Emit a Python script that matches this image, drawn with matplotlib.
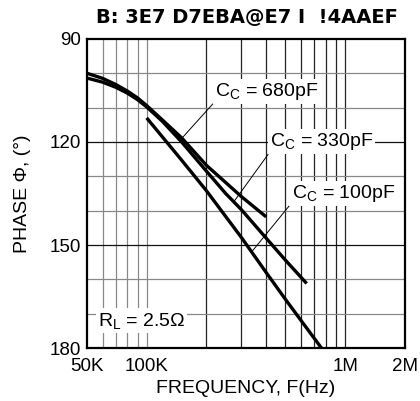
import numpy as np
import matplotlib
matplotlib.use("Agg")
import matplotlib.pyplot as plt

plt.rcParams['font.family'] = ['Liberation Sans', 'DejaVu Sans']
plt.rcParams['mathtext.fontset'] = 'custom'
plt.rcParams['mathtext.rm'] = 'Liberation Sans'
plt.rcParams['mathtext.it'] = 'Liberation Sans'

# phase vs frequency for each compensation cap
f_680 = [50e3, 60e3, 70e3, 80e3, 90e3, 100e3, 120e3, 150e3, 200e3, 250e3, 300e3, 400e3]
ph_680 = [100.0, 101.5, 103.3, 105.2, 107.2, 109.4, 113.6, 118.8, 126.8, 131.8, 135.9, 141.8]

f_330 = [50e3, 60e3, 70e3, 80e3, 90e3, 100e3, 120e3, 150e3, 200e3, 250e3, 300e3, 400e3, 500e3, 640e3]
ph_330 = [101.4, 102.6, 104.1, 105.8, 107.7, 109.8, 114.0, 120.0, 128.5, 135.0, 139.7, 148.0, 154.4, 161.2]

f_100 = [100e3, 150e3, 200e3, 300e3, 400e3, 500e3, 600e3, 760e3]
ph_100 = [113.0, 125.3, 134.2, 147.8, 158.0, 165.8, 172.0, 180.0]

xticks = [50e3, 100e3, 1e6, 2e6]
xlabels = ['50K', '100K', '1M', '2M']
yticks = [90, 120, 150, 180]

fig = plt.figure(figsize=(4.2, 4.01), dpi=100)
ax = fig.add_axes([0.207, 0.132, 0.757, 0.771])
ax.set_xscale('log')
ax.set_xlim(50e3, 2e6)
ax.set_ylim(180, 90)

# grid
for f in np.arange(60e3, 100e3 + 1, 10e3):
    ax.axvline(f, color='#888888', lw=0.9, zorder=1)
for f in np.arange(200e3, 1e6 + 1, 100e3):
    ax.axvline(f, color='#222222', lw=0.9, zorder=1)
for p in range(100, 180, 10):
    c = '#111111' if p % 30 == 0 else '#888888'
    ax.axhline(p, color=c, lw=0.9, zorder=1)

for f, ph in [(f_680, ph_680), (f_330, ph_330), (f_100, ph_100)]:
    ax.plot(f, ph, color='black', lw=2.4, solid_capstyle='butt', zorder=4)

box = dict(facecolor='white', edgecolor='none', pad=1.5)
lead = dict(arrowstyle='-', lw=0.7, color='black', shrinkA=0, shrinkB=0)
ax.annotate(r'$\mathregular{C_C}$ = 680pF', xy=(150e3, 119.0), xytext=(221e3, 105.4),
            fontsize=14, va='center', ha='left', bbox=box, zorder=3,
            arrowprops=dict(lead, relpos=(0.02, 0.15)))
ax.annotate(r'$\mathregular{C_C}$ = 330pF', xy=(275e3, 137.4), xytext=(418e3, 119.9),
            fontsize=14, va='center', ha='left', bbox=box, zorder=3,
            arrowprops=dict(lead, relpos=(0.02, 0.15)))
ax.annotate(r'$\mathregular{C_C}$ = 100pF', xy=(338e3, 152.0), xytext=(537e3, 134.9),
            fontsize=14, va='center', ha='left', bbox=box, zorder=3,
            arrowprops=dict(lead, relpos=(0.02, 0.15)))
ax.text(56.8e3, 172.0, r'$\mathregular{R_L}$ = 2.5Ω', fontsize=14, va='center',
        ha='left', bbox=box, zorder=3)

ax.set_xticks(xticks)
ax.set_xticklabels(xlabels)
ax.set_xticks([], minor=True)
ax.set_yticks(yticks)
ax.tick_params(length=0, labelsize=13.5)
ax.tick_params(axis='x', pad=7)
ax.tick_params(axis='y', pad=4)
for s in ax.spines.values():
    s.set_linewidth(1.6)
    s.set_zorder(5)

ax.set_xlabel('FREQUENCY, F(Hz)', fontsize=14, labelpad=4)
ax.set_ylabel('PHASE Φ, (°)', fontsize=14, labelpad=14)
fig.text(0.588, 0.957, 'B: 3E7 D7EBA@E7 I  !4AAEF', fontsize=14,
         fontweight='bold', family='DejaVu Sans', ha='center', va='center')

fig.savefig('out.png', dpi=100)
